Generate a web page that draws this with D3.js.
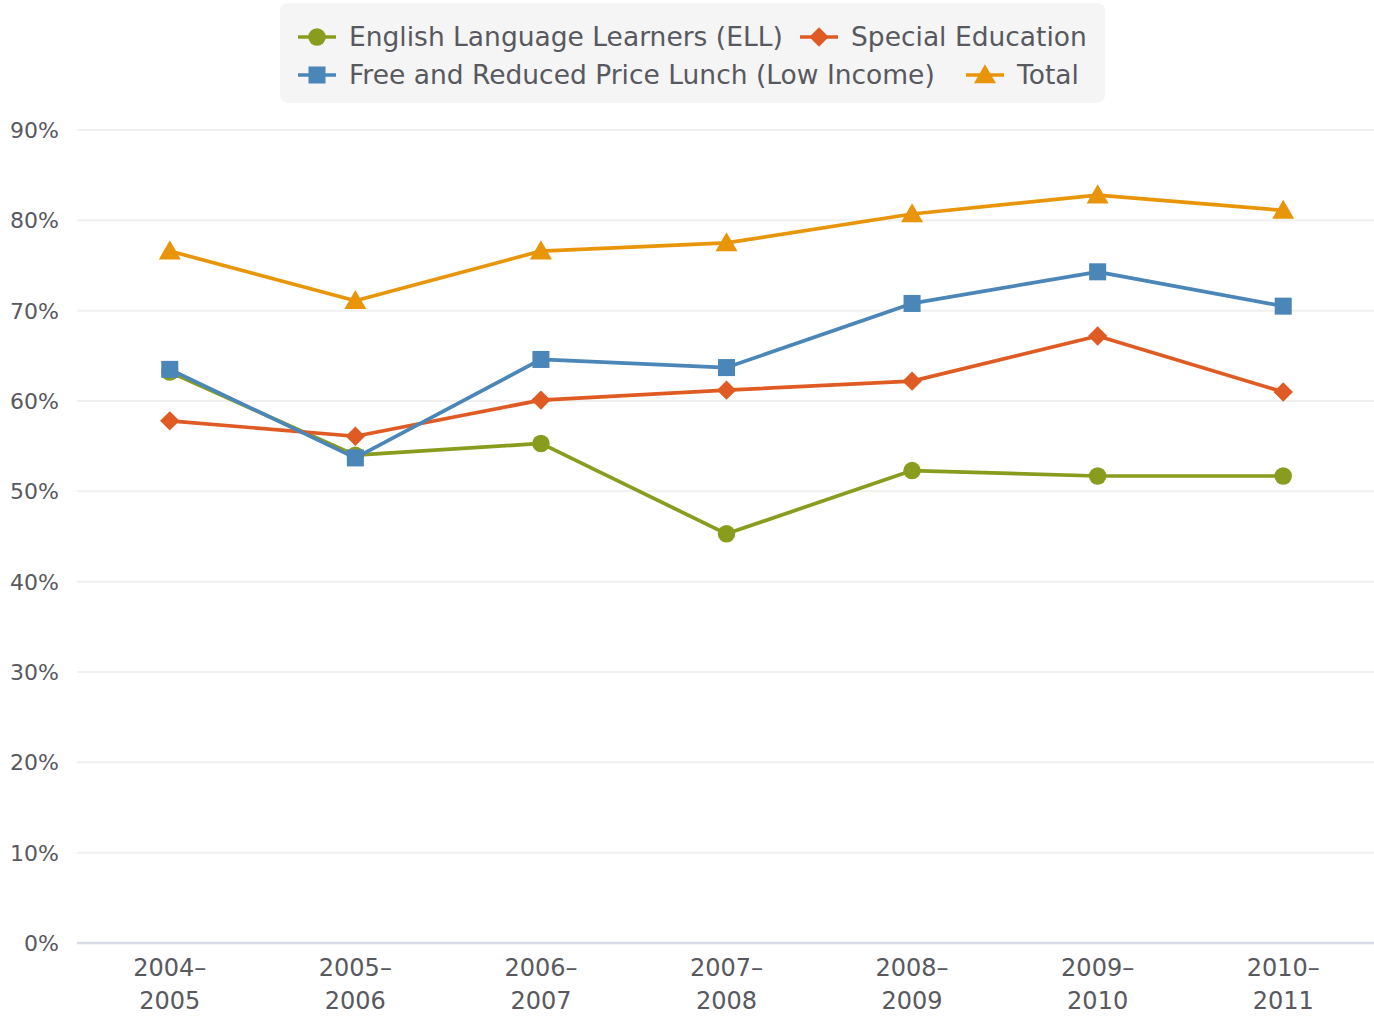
<html lang="en">
<head>
  <meta charset="UTF-8"/>
  <title>Graduation rates by group</title>
  <script src="https://d3js.org/d3.v7.min.js"></script>
  <style>
    body { margin: 0; background: #fff; }
    text { font-family: "DejaVu Sans", "Open Sans", sans-serif; fill: #58595f; }
  </style>
</head>
<body>
<svg id="chart"></svg>
<script>
// school years on the x axis
const years = ["2004-2005", "2005-2006", "2006-2007", "2007-2008", "2008-2009", "2009-2010", "2010-2011"];
const yTicks = [0, 10, 20, 30, 40, 50, 60, 70, 80, 90];

// values in percent
const ell = [63.2, 54.0, 55.3, 45.3, 52.3, 51.7, 51.7];
const specialEd = [57.8, 56.1, 60.1, 61.2, 62.2, 67.2, 61.0];
const lowIncome = [63.5, 53.7, 64.6, 63.7, 70.8, 74.3, 70.5];
const total = [76.6, 71.1, 76.6, 77.5, 80.7, 82.8, 81.1];

const series = [
  { name: "Free and Reduced Price Lunch (Low Income)", values: lowIncome, color: "#4a86b8", symbol: d3.symbolSquare },
  { name: "Special Education", values: specialEd, color: "#e05a24", symbol: d3.symbolDiamond2 },
  { name: "English Language Learners (ELL)", values: ell, color: "#8a9c1e", symbol: d3.symbolCircle },
  { name: "Total", values: total, color: "#e8950a", symbol: d3.symbolTriangle }
];

const width = 1374, height = 1019;
const margin = { top: 130, right: -2, bottom: 76, left: 77 };

const svg = d3.select("#chart").attr("width", width).attr("height", height);

const x = d3.scaleBand().domain(years).range([margin.left, width - margin.right]);
const y = d3.scaleLinear().domain([0, 90]).range([height - margin.bottom, margin.top]);

// gridlines
svg.append("g").selectAll("line")
  .data(yTicks.filter(d => d > 0))
  .join("line")
  .attr("x1", margin.left).attr("x2", width)
  .attr("y1", d => y(d)).attr("y2", d => y(d))
  .attr("stroke", "#f0f0f0").attr("stroke-width", 2);

// y labels
svg.append("g").selectAll("text")
  .data(yTicks)
  .join("text")
  .attr("x", 59).attr("y", d => y(d) + 8)
  .attr("text-anchor", "end")
  .style("font-size", "22px")
  .text(d => d + "%");

// x axis line
svg.append("line")
  .attr("x1", margin.left).attr("x2", width)
  .attr("y1", y(0)).attr("y2", y(0))
  .attr("stroke", "#d8dce8").attr("stroke-width", 2.5);

// x labels, two rows
const xl = svg.append("g").selectAll("text")
  .data(years)
  .join("text")
  .attr("text-anchor", "middle")
  .style("font-size", "24px");
xl.append("tspan")
  .attr("x", d => x(d) + x.bandwidth() / 2).attr("y", 976)
  .text(d => d.split("-")[0] + "\u2013");
xl.append("tspan")
  .attr("x", d => x(d) + x.bandwidth() / 2).attr("y", 1009)
  .text(d => d.split("-")[1]);

const cx = i => x(years[i]) + x.bandwidth() / 2;
const line = d3.line().x((d, i) => cx(i)).y(d => y(d));

function sizeOf(sym) {
  if (sym === d3.symbolSquare) return 290;
  if (sym === d3.symbolCircle) return 240;
  if (sym === d3.symbolDiamond2) return 240;
  return 210;
}

// draw order: ELL under Low income like the reference
const order = [series[2], series[1], series[0], series[3]];
order.forEach(s => {
  const g = svg.append("g");
  g.append("path")
    .datum(s.values)
    .attr("d", line)
    .attr("fill", "none")
    .attr("stroke", s.color)
    .attr("stroke-width", 3.7)
    .attr("stroke-linejoin", "round");
  g.selectAll("path.m")
    .data(s.values)
    .join("path")
    .attr("class", "m")
    .attr("transform", (d, i) => `translate(${cx(i)},${y(d) + (s.symbol === d3.symbolTriangle ? 2 : 0)})`)
    .attr("d", d3.symbol().type(s.symbol).size(sizeOf(s.symbol)))
    .attr("fill", s.color);
});

// legend
const legend = svg.append("g");
legend.append("rect")
  .attr("x", 280).attr("y", 3).attr("width", 825).attr("height", 100)
  .attr("rx", 8).attr("fill", "#f5f5f5");

const legendItems = [
  { s: series[2], x: 298, y: 37 },
  { s: series[1], x: 800, y: 37 },
  { s: series[0], x: 298, y: 75 },
  { s: series[3], x: 966, y: 75 }
];
legendItems.forEach(it => {
  const g = legend.append("g");
  g.append("line")
    .attr("x1", it.x).attr("x2", it.x + 38)
    .attr("y1", it.y).attr("y2", it.y)
    .attr("stroke", it.s.color).attr("stroke-width", 3.7);
  g.append("path")
    .attr("transform", `translate(${it.x + 19},${it.y + (it.s.symbol === d3.symbolTriangle ? 2 : 0)})`)
    .attr("d", d3.symbol().type(it.s.symbol).size(sizeOf(it.s.symbol)))
    .attr("fill", it.s.color);
  g.append("text")
    .attr("x", it.x + 51).attr("y", it.y + 9)
    .style("font-size", "26.5px")
    .text(it.s.name);
});
</script>
</body>
</html>
